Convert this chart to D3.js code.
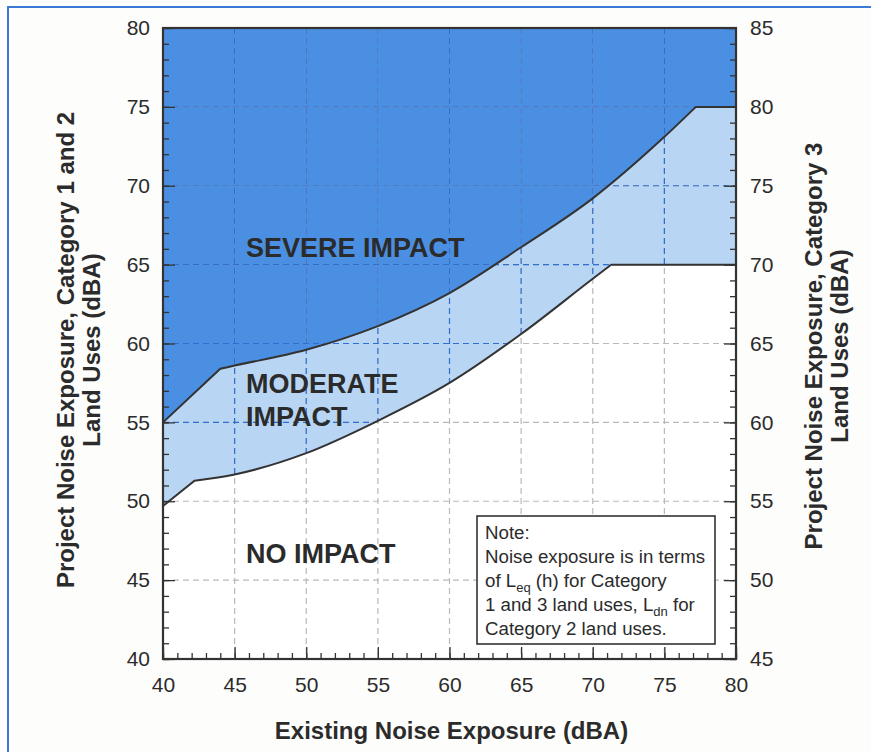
<!DOCTYPE html>
<html>
<head>
<meta charset="utf-8">
<script src="https://cdn.jsdelivr.net/npm/d3@7"></script>
<style>
  body { margin: 0; background: #fdfdfc; }
  text { font-family: "Liberation Sans", Arial, sans-serif; fill: #2b2b2b; }
</style>
</head>
<body>
<div id="chart"></div>
<script>
// thresholds: [existing noise, project noise] (left axis, Category 1 and 2)
// moderate impact threshold = lower curve
const modStart = [[40, 49.7], [42.2, 51.3]];
const modCurve = [[42.2, 51.3], [45, 51.7], [50, 53.05], [55, 55.1], [60, 57.5], [65, 60.6], [70, 64.1], [71.3, 65]];
const modEnd = [[71.3, 65], [80, 65]];
// severe impact threshold = upper curve
const sevStart = [[40, 55], [44, 58.4]];
const sevCurve = [[44, 58.4], [45, 58.6], [50, 59.6], [55, 61.1], [60, 63.2], [65, 66.1], [70, 69.2], [75, 73.1], [77.2, 75]];
const sevEnd = [[77.2, 75], [80, 75]];

const xMajor = [40, 45, 50, 55, 60, 65, 70, 75, 80];
const yMajor = [40, 45, 50, 55, 60, 65, 70, 75, 80];
const y2Major = [45, 50, 55, 60, 65, 70, 75, 80, 85];
const gridX = [45, 50, 55, 60, 65, 70, 75];
const gridY = [45, 50, 55, 60, 65, 70, 75];

const noteLines = [
    [["Note:"]],
    [["Noise exposure is in terms"]],
    [["of L"], ["eq", "sub"], [" (h) for Category"]],
    [["1 and 3 land uses, L"], ["dn", "sub"], [" for"]],
    [["Category 2 land uses."]]
];

// set the dimensions and margins of the graph
const W = 871, H = 752;
const margin = { top: 28, right: 135, bottom: 93, left: 163 },
    width = W - margin.left - margin.right,
    height = H - margin.top - margin.bottom;

const svg = d3.select("#chart")
    .append("svg")
    .attr("width", W)
    .attr("height", H);

// page frame (blue rule at left and top)
svg.append("path")
    .attr("d", `M8,${H}V7H${W}`)
    .attr("fill", "none")
    .attr("stroke", "#3a7ad6")
    .attr("stroke-width", 2);

const g = svg.append("g")
    .attr("transform", "translate(" + margin.left + "," + margin.top + ")");

const x = d3.scaleLinear().domain([40, 80]).range([0, width]);
const y = d3.scaleLinear().domain([40, 80]).range([height, 0]);
const y2 = d3.scaleLinear().domain([45, 85]).range([height, 0]);

// join straight and curved pieces into one path
function threshold(parts) {
    return parts.map((p, i) => {
        const d = d3.line()
            .x(d => x(d[0]))
            .y(d => y(d[1]))
            .curve(p.curve)(p.pts);
        return i ? d.replace(/^M[^A-Za-z]*/, "") : d;
    }).join("");
}
const modPath = threshold([
    { pts: modStart, curve: d3.curveLinear },
    { pts: modCurve, curve: d3.curveMonotoneX },
    { pts: modEnd, curve: d3.curveLinear }
]);
const sevPath = threshold([
    { pts: sevStart, curve: d3.curveLinear },
    { pts: sevCurve, curve: d3.curveMonotoneX },
    { pts: sevEnd, curve: d3.curveLinear }
]);
const closeTop = `L${x(80)},${y(80)}L${x(40)},${y(80)}Z`;

g.append("rect")
    .attr("width", width)
    .attr("height", height)
    .attr("fill", "#ffffff");

g.append("path").attr("d", modPath + closeTop).attr("fill", "#b8d6f4");
g.append("path").attr("d", sevPath + closeTop).attr("fill", "#4b8fe2");

g.append("clipPath").attr("id", "blueZone")
    .append("path").attr("d", modPath + closeTop);

// dashed grid: grey on white, blue on the impact zones
function grid(sel, color) {
    sel.selectAll(".gx").data(gridX).enter().append("line")
        .attr("x1", d => x(d)).attr("x2", d => x(d))
        .attr("y1", 0).attr("y2", height);
    sel.selectAll(".gy").data(gridY).enter().append("line")
        .attr("y1", d => y(d)).attr("y2", d => y(d))
        .attr("x1", 0).attr("x2", width);
    sel.selectAll("line")
        .attr("stroke", color)
        .attr("stroke-width", 1.2)
        .attr("stroke-dasharray", "6,4");
}
g.append("g").call(grid, "#b9b9b9");
g.append("g").attr("clip-path", "url(#blueZone)").call(grid, "#2f6fd0");

// threshold curves
[modPath, sevPath].forEach(d => {
    g.append("path")
        .attr("d", d)
        .attr("fill", "none")
        .attr("stroke", "#333")
        .attr("stroke-width", 2);
});

// axes, ticks pointing inward
function styleAxis(a) {
    a.select(".domain").remove();
    a.selectAll("line").attr("stroke", "#333").attr("stroke-width", 1.3);
    a.attr("font-size", 21);
}
g.append("g").call(d3.axisLeft(y).tickValues(d3.range(40, 81)).tickSize(-6).tickFormat("")).call(styleAxis);
g.append("g").call(d3.axisLeft(y).tickValues(yMajor).tickSizeInner(-12).tickSizeOuter(0).tickPadding(13)).call(styleAxis);

g.append("g").attr("transform", "translate(0," + height + ")")
    .call(d3.axisBottom(x).tickValues(d3.range(40, 81)).tickSize(-6).tickFormat("")).call(styleAxis);
g.append("g").attr("transform", "translate(0," + height + ")")
    .call(d3.axisBottom(x).tickValues(xMajor).tickSizeInner(-12).tickSizeOuter(0).tickPadding(18)).call(styleAxis);

g.append("g").attr("transform", "translate(" + width + ",0)")
    .call(d3.axisRight(y2).tickValues(d3.range(45, 86)).tickSize(-6).tickFormat("")).call(styleAxis);
g.append("g").attr("transform", "translate(" + width + ",0)")
    .call(d3.axisRight(y2).tickValues(y2Major).tickSizeInner(-12).tickSizeOuter(0).tickPadding(14)).call(styleAxis);

// plot border
g.append("rect")
    .attr("width", width)
    .attr("height", height)
    .attr("fill", "none")
    .attr("stroke", "#333")
    .attr("stroke-width", 2.2);

// zone labels
const zone = (txt, px, py) => g.append("text")
    .text(txt)
    .attr("x", px)
    .attr("y", py)
    .attr("font-size", 27)
    .attr("font-weight", "bold");
zone("SEVERE IMPACT", 83, 229);
zone("MODERATE", 83, 365);
zone("IMPACT", 83, 398);
zone("NO IMPACT", 83, 535);

// note box
const note = g.append("g").attr("transform", "translate(314,488)");
note.append("rect")
    .attr("width", 238)
    .attr("height", 128)
    .attr("fill", "#ffffff")
    .attr("stroke", "#333")
    .attr("stroke-width", 1.6);
noteLines.forEach((line, i) => {
    const t = note.append("text")
        .attr("x", 8)
        .attr("y", 23 + i * 24)
        .attr("font-size", 18.7);
    line.forEach(seg => {
        const ts = t.append("tspan").text(seg[0]);
        if (seg[1] === "sub") ts.attr("font-size", 13).attr("dy", 5);
        else if (t.selectAll("tspan").size() > 1) ts.attr("dy", -5);
    });
});

// axis titles
svg.append("text")
    .text("Existing Noise Exposure (dBA)")
    .attr("x", margin.left + width / 2 + 2)
    .attr("y", 739)
    .attr("text-anchor", "middle")
    .attr("font-size", 24)
    .attr("font-weight", "bold");

const vTitle = (lines, xs, cy) => lines.forEach((txt, i) => {
    svg.append("text")
        .text(txt)
        .attr("text-anchor", "middle")
        .attr("font-size", 24)
        .attr("font-weight", "bold")
        .attr("transform", `translate(${xs[i]},${cy}) rotate(-90)`);
});
vTitle(["Project Noise Exposure, Category 1 and 2", "Land Uses (dBA)"], [74, 100], 350);
vTitle(["Project Noise Exposure, Category 3", "Land Uses (dBA)"], [822, 848], 346);
</script>
</body>
</html>
